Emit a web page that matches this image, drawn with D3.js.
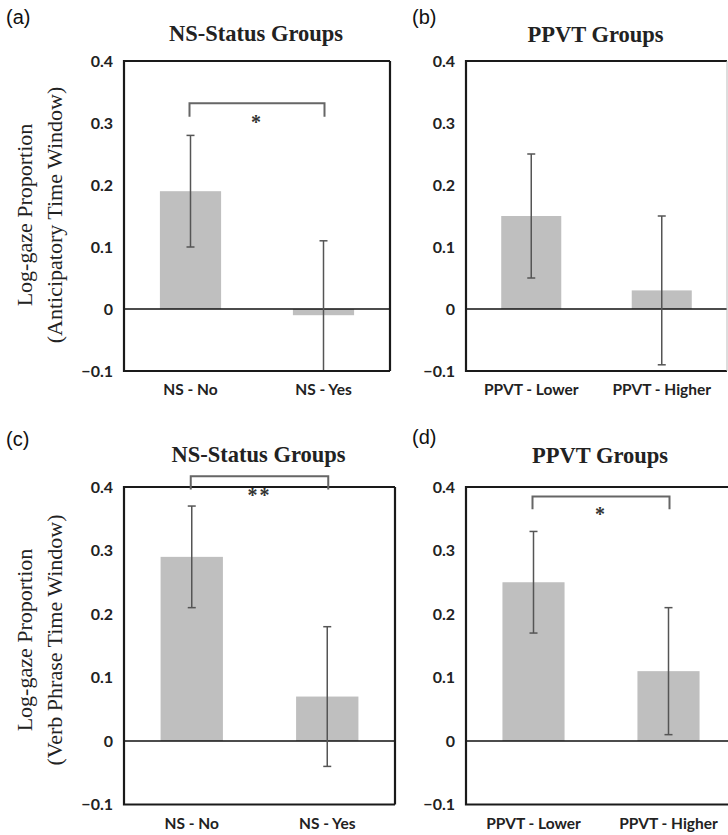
<!DOCTYPE html>
<html>
<head>
<meta charset="utf-8">
<script src="https://cdn.jsdelivr.net/npm/d3@7"></script>
<style>
  body { margin: 0; background: #fff; }
  svg { display: block; }
</style>
</head>
<body>
<svg id="chart" width="728" height="835"></svg>
<script>
// Data
const nsGroups = ['NS - No', 'NS - Yes'];
const ppvtGroups = ['PPVT - Lower', 'PPVT - Higher'];
const yTicks = [-0.1, 0, 0.1, 0.2, 0.3, 0.4];

// (a) anticipatory window, NS status
const meanA = [0.19, -0.01];
const lowA = [0.10, -0.10];
const highA = [0.28, 0.11];
// (b) anticipatory window, PPVT
const meanB = [0.15, 0.03];
const lowB = [0.05, -0.09];
const highB = [0.25, 0.15];
// (c) verb phrase window, NS status
const meanC = [0.29, 0.07];
const lowC = [0.21, -0.04];
const highC = [0.37, 0.18];
// (d) verb phrase window, PPVT
const meanD = [0.25, 0.11];
const lowD = [0.17, 0.01];
const highD = [0.33, 0.21];

// significance brackets: [bracket top, bracket ends, label]
const sigA = [0.332, 0.31, '*'];
const sigC = [0.417, 0.396, '**'];
const sigD = [0.385, 0.365, '*'];

const svg = d3.select('#chart');

const panels = [
    { tag: '(a)', title: 'NS-Status Groups', cats: nsGroups, mean: meanA, low: lowA, high: highA, sig: sigA,
      left: 124, right: 390, top: 61, bottom: 371, tagX: 6, tagY: 24, titleY: 41 },
    { tag: '(b)', title: 'PPVT Groups', cats: ppvtGroups, mean: meanB, low: lowB, high: highB, sig: null,
      left: 466, right: 727, top: 61, bottom: 371, tagX: 412, tagY: 24, titleY: 42 },
    { tag: '(c)', title: 'NS-Status Groups', cats: nsGroups, mean: meanC, low: lowC, high: highC, sig: sigC,
      left: 124, right: 395, top: 487, bottom: 804.5, tagX: 6, tagY: 446, titleY: 462 },
    { tag: '(d)', title: 'PPVT Groups', cats: ppvtGroups, mean: meanD, low: lowD, high: highD, sig: sigD,
      left: 466, right: 736, top: 487, bottom: 804.5, tagX: 412, tagY: 444, titleY: 463 }
];

const yLabels = [
    { lines: ['Log-gaze Proportion', '(Anticipatory Time Window)'], cy: 215 },
    { lines: ['Log-gaze Proportion', '(Verb Phrase Time Window)'], cy: 640 }
];

function drawPanel(p) {
    const g = svg.append('g');

    const x = d3.scaleBand()
        .domain(p.cats)
        .range([p.left, p.right])
        .paddingInner(0.54)
        .paddingOuter(0.27);

    const y = d3.scaleLinear()
        .domain([-0.1, 0.4])
        .range([p.bottom, p.top]);

    // bars
    g.selectAll('rect.bar')
        .data(p.cats)
        .enter().append('rect')
        .attr('class', 'bar')
        .attr('x', d => x(d))
        .attr('width', x.bandwidth())
        .attr('y', (d, i) => y(Math.max(0, p.mean[i])))
        .attr('height', (d, i) => Math.abs(y(p.mean[i]) - y(0)))
        .attr('fill', '#bfbfbf');

    // zero line
    g.append('line')
        .attr('x1', p.left).attr('x2', p.right)
        .attr('y1', y(0)).attr('y2', y(0))
        .attr('stroke', '#111').attr('stroke-width', 1.6);

    // error bars
    const eb = g.selectAll('g.err')
        .data(p.cats)
        .enter().append('g')
        .attr('class', 'err')
        .attr('stroke', '#555')
        .attr('stroke-width', 1.5);
    const cx = d => x(d) + x.bandwidth() / 2;
    eb.append('line')
        .attr('x1', cx).attr('x2', cx)
        .attr('y1', (d, i) => y(p.low[i]))
        .attr('y2', (d, i) => y(p.high[i]));
    eb.append('line')
        .attr('x1', d => cx(d) - 4).attr('x2', d => cx(d) + 4)
        .attr('y1', (d, i) => y(p.low[i])).attr('y2', (d, i) => y(p.low[i]));
    eb.append('line')
        .attr('x1', d => cx(d) - 4).attr('x2', d => cx(d) + 4)
        .attr('y1', (d, i) => y(p.high[i])).attr('y2', (d, i) => y(p.high[i]));

    // frame: left, top, bottom dark; right side light
    g.append('path')
        .attr('d', `M${p.right},${p.top}H${p.left}V${p.bottom}H${p.right}`)
        .attr('fill', 'none')
        .attr('stroke', '#1a1a1a')
        .attr('stroke-width', 2.2);
    if (p.right < 728) {
        g.append('line')
            .attr('x1', p.right).attr('x2', p.right)
            .attr('y1', p.top).attr('y2', p.bottom)
            .attr('stroke', p.right > 720 ? '#bbb' : '#1a1a1a')
            .attr('stroke-width', p.right > 720 ? 1 : 2.2);
    }

    // y tick labels
    g.selectAll('text.tick')
        .data(yTicks)
        .enter().append('text')
        .attr('class', 'tick')
        .attr('x', p.left - 11)
        .attr('y', d => y(d))
        .attr('dy', '0.35em')
        .attr('text-anchor', 'end')
        .attr('font-family', 'Lato, sans-serif')
        .attr('font-weight', 700)
        .attr('font-size', 16)
        .attr('fill', '#222')
        .text(d => d === 0 ? '0' : d3.format('.1f')(d));

    // category labels
    g.selectAll('text.cat')
        .data(p.cats)
        .enter().append('text')
        .attr('class', 'cat')
        .attr('x', cx)
        .attr('y', p.bottom + 24)
        .attr('text-anchor', 'middle')
        .attr('font-family', 'Lato, sans-serif')
        .attr('font-weight', 700)
        .attr('font-size', 15.5)
        .attr('fill', '#222')
        .text(d => d);

    // title
    g.append('text')
        .attr('x', (p.left + Math.min(p.right, 736)) / 2 - 1)
        .attr('y', p.titleY)
        .attr('text-anchor', 'middle')
        .attr('font-family', '"Liberation Serif", "Times New Roman", serif')
        .attr('font-weight', 700)
        .attr('font-size', 22.5)
        .attr('fill', '#222')
        .text(p.title);

    // panel tag
    g.append('text')
        .attr('x', p.tagX)
        .attr('y', p.tagY)
        .attr('font-family', '"Liberation Sans", Arial, sans-serif')
        .attr('font-size', 20)
        .attr('fill', '#111')
        .text(p.tag);

    // significance bracket
    if (p.sig) {
        const x1 = cx(p.cats[0]) - 1;
        const x2 = cx(p.cats[1]) + 1;
        g.append('path')
            .attr('d', `M${x1},${y(p.sig[1])}V${y(p.sig[0])}H${x2}V${y(p.sig[1])}`)
            .attr('fill', 'none')
            .attr('stroke', '#666')
            .attr('stroke-width', 2);
        g.append('text')
            .attr('x', (x1 + x2) / 2)
            .attr('y', y(p.sig[1]) + 12)
            .attr('text-anchor', 'middle')
            .attr('font-family', '"Liberation Serif", serif')
            .attr('font-weight', 700)
            .attr('font-size', 20)
            .attr('letter-spacing', 2)
            .attr('fill', '#333')
            .text(p.sig[2]);
    }
}

panels.forEach(drawPanel);

// y axis titles (rotated, two lines)
yLabels.forEach(l => {
    l.lines.forEach((t, i) => {
        const lx = 24 + i * 30;
        svg.append('text')
            .attr('transform', `translate(${lx},${l.cy}) rotate(-90)`)
            .attr('text-anchor', 'middle')
            .attr('dy', '0.35em')
            .attr('font-family', '"Liberation Serif", "Times New Roman", serif')
            .attr('font-size', 22)
            .attr('fill', '#222')
            .text(t);
    });
});
</script>
</body>
</html>
